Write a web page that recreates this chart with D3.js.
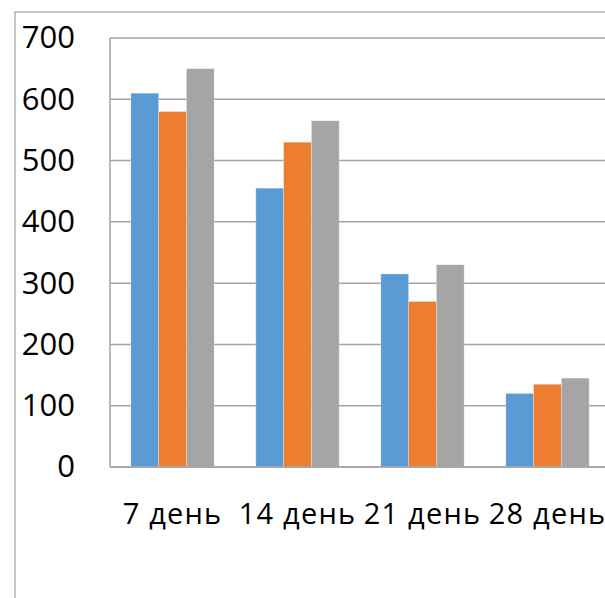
<!DOCTYPE html>
<html>
<head>
<meta charset="utf-8">
<script src="https://cdn.jsdelivr.net/npm/d3@7"></script>
<style>
  html, body { margin: 0; padding: 0; background: #fff; }
  svg { display: block; }
  text { font-family: "Open Sans", "Noto Sans", sans-serif; fill: #000; }
</style>
</head>
<body>
<svg id="chart" width="605" height="598"></svg>
<script>
// Categories (days) and the three series of values
const categories = ["7 день", "14 день", "21 день", "28 день"];
const seriesA = [610, 455, 315, 120];
const seriesB = [580, 530, 270, 135];
const seriesC = [650, 565, 330, 145];
const yTicks = [0, 100, 200, 300, 400, 500, 600, 700];
const colors = ["#5b9bd5", "#ed7d31", "#a5a5a5"];

const series = [seriesA, seriesB, seriesC];
const svg = d3.select("#chart");

// Plot area (extends past the right edge of the page)
const plot = { left: 110, right: 610, top: 38, bottom: 467 };

// Outer chart frame
svg.append("rect")
  .attr("x", 15).attr("y", 12)
  .attr("width", 700).attr("height", 700)
  .attr("fill", "none")
  .attr("stroke", "#b4b4b4")
  .attr("stroke-width", 1.5);

const x = d3.scaleBand()
  .domain(categories)
  .range([plot.left, plot.right])
  .paddingInner(0.3333)
  .paddingOuter(0.1667);

const xInner = d3.scaleBand()
  .domain(d3.range(series.length))
  .range([0, x.bandwidth()]);

const y = d3.scaleLinear().domain([0, 700]).range([plot.bottom, plot.top]);

// Horizontal gridlines
svg.append("g")
  .selectAll("line")
  .data(yTicks)
  .join("line")
  .attr("x1", plot.left).attr("x2", plot.right)
  .attr("y1", d => y(d)).attr("y2", d => y(d))
  .attr("stroke", "#a3a3a3")
  .attr("stroke-width", 1.5);

// Left edge of plot area
svg.append("line")
  .attr("x1", plot.left).attr("x2", plot.left)
  .attr("y1", plot.top).attr("y2", plot.bottom)
  .attr("stroke", "#a3a3a3")
  .attr("stroke-width", 1.5);

// Bars
const groups = svg.append("g")
  .selectAll("g")
  .data(categories)
  .join("g")
  .attr("transform", d => `translate(${x(d)},0)`);

groups.selectAll("rect")
  .data((d, i) => series.map((s, j) => ({ s: j, v: s[i] })))
  .join("rect")
  .attr("x", d => xInner(d.s))
  .attr("width", xInner.bandwidth())
  .attr("y", d => y(d.v))
  .attr("height", d => y(0) - y(d.v))
  .attr("fill", d => colors[d.s])
  .attr("stroke", "rgba(255,255,255,0.35)")
  .attr("stroke-width", 0.8);

// Baseline axis
svg.append("line")
  .attr("x1", plot.left).attr("x2", plot.right)
  .attr("y1", y(0)).attr("y2", y(0))
  .attr("stroke", "#a3a3a3")
  .attr("stroke-width", 1.5);

// Value axis labels
const yAxis = d3.axisLeft(y).tickValues(yTicks).tickSize(0).tickPadding(35);
const yg = svg.append("g").attr("transform", `translate(${plot.left},0)`).call(yAxis);
yg.select(".domain").remove();
yg.selectAll("text")
  .attr("font-family", "'Open Sans', 'Noto Sans', sans-serif")
  .attr("font-size", 31)
  .attr("fill", "#000");

// Category labels
const xAxis = d3.axisBottom(x).tickSize(0).tickPadding(0);
const xg = svg.append("g").attr("transform", `translate(0,${plot.bottom})`).call(xAxis);
xg.select(".domain").remove();
xg.selectAll("text")
  .attr("font-family", "'Open Sans', 'Noto Sans', sans-serif")
  .attr("font-size", 29)
  .attr("letter-spacing", 1.2)
  .attr("fill", "#000")
  .attr("dy", null)
  .attr("y", 57);
</script>
</body>
</html>
